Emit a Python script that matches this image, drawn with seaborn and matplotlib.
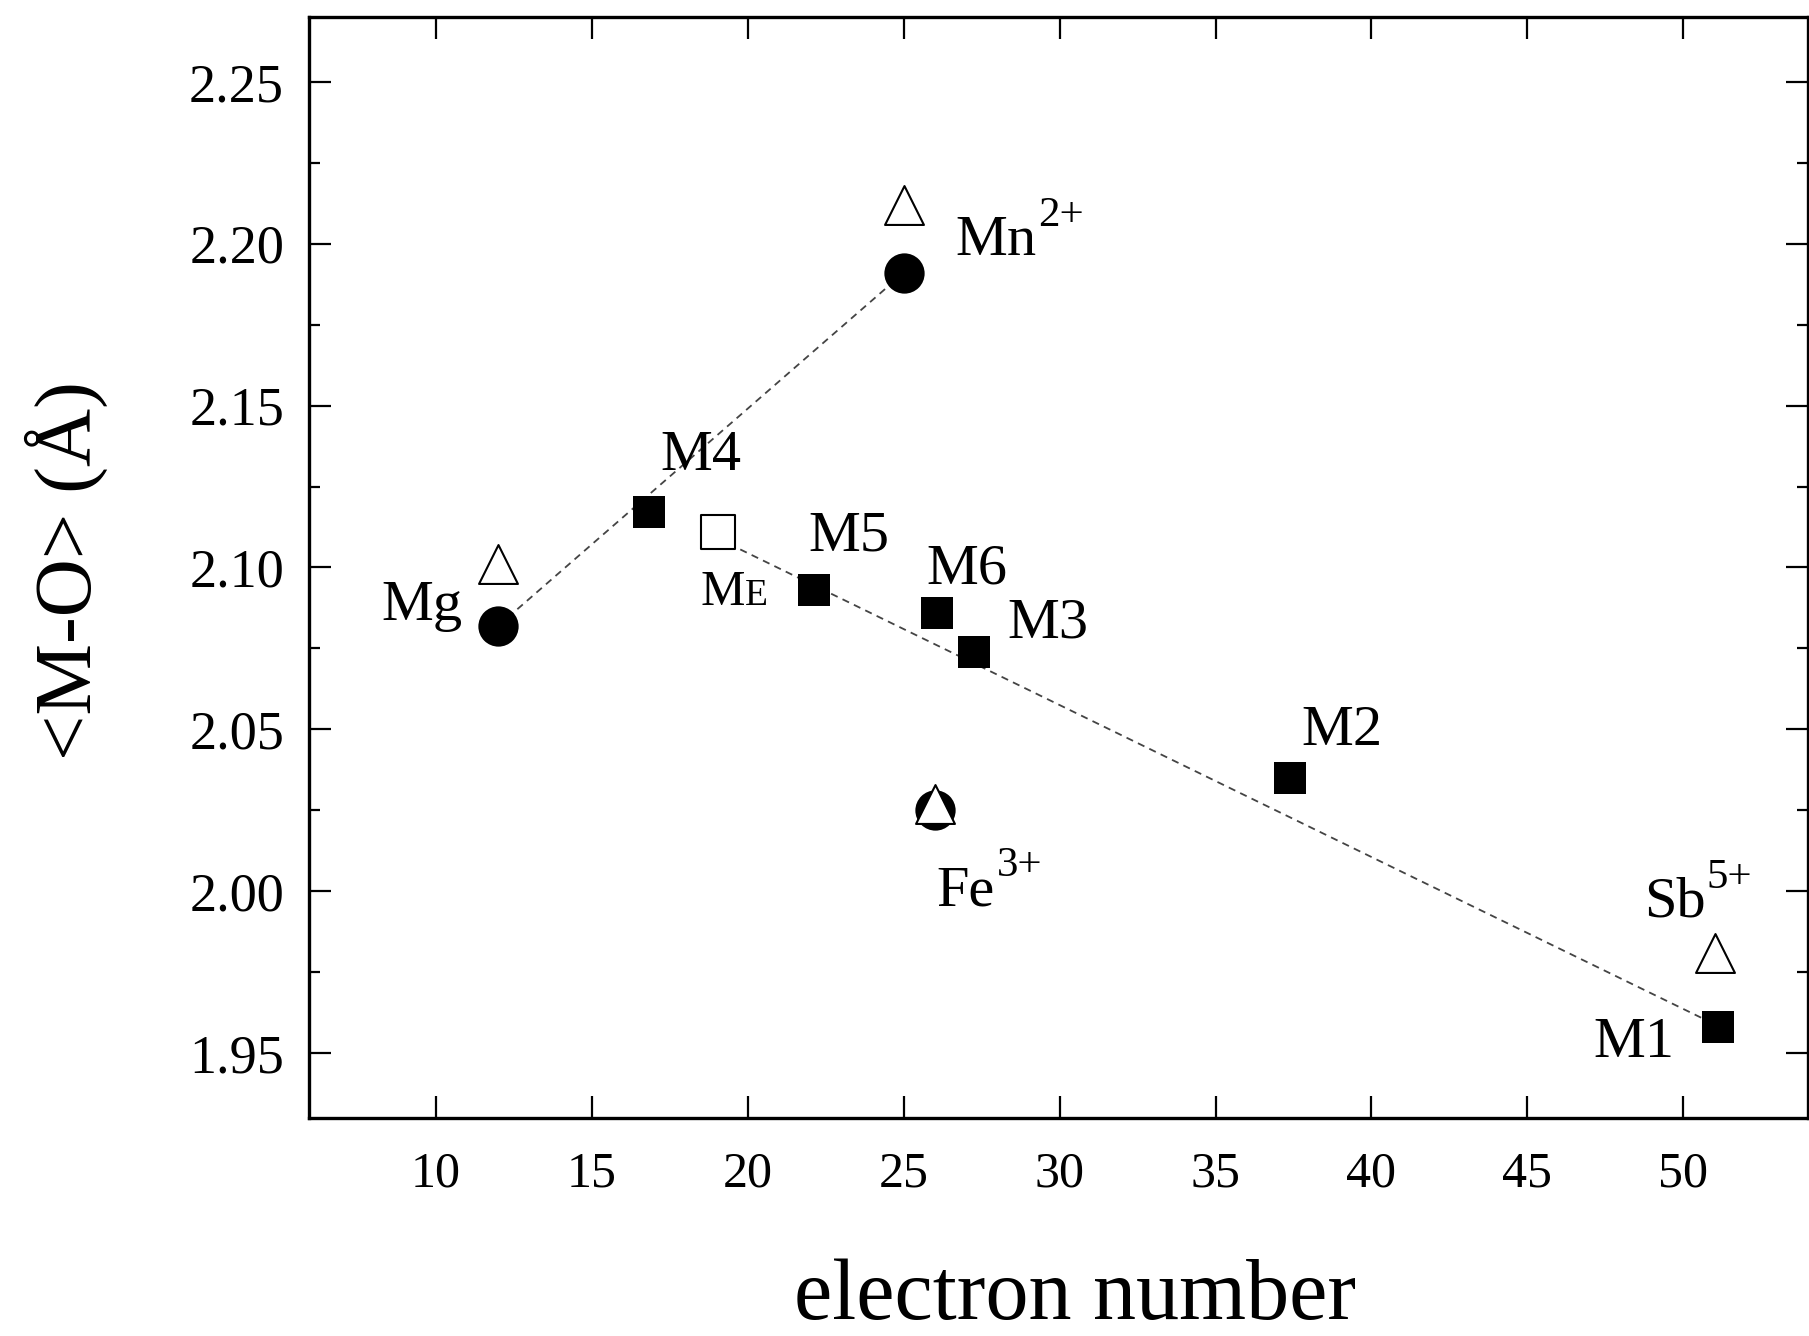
import matplotlib
matplotlib.use("Agg")
import matplotlib.pyplot as plt
import seaborn as sns
import pandas as pd
from matplotlib.ticker import MultipleLocator, FormatStrFormatter

# ---- data ----
# filled squares: structural sites
site_names = ["M4", "M5", "M6", "M3", "M2", "M1"]
site_x = [16.84, 22.13, 26.06, 27.24, 37.38, 51.1]
site_y = [2.117, 2.093, 2.086, 2.074, 2.035, 1.958]

# open square: ME
me_x = [19.03]
me_y = [2.111]

# filled circles: ions
ion_names = ["Mg", "Mn", "Fe"]
ion_x = [12.0, 25.0, 26.0]
ion_y = [2.082, 2.191, 2.025]

# open triangles: ideal ionic values
tri_names = ["Mg", "Mn", "Fe", "Sb"]
tri_x = [12.0, 25.0, 26.0, 51.0]
tri_y = [2.101, 2.212, 2.027, 1.981]

# dashed trend lines
line1_x = [12.0, 25.0]
line1_y = [2.082, 2.191]
line2_x = [19.03, 51.1]
line2_y = [2.109, 1.9585]

x_ticks = [10, 15, 20, 25, 30, 35, 40, 45, 50]
y_ticks = [1.95, 2.00, 2.05, 2.10, 2.15, 2.20, 2.25]

# ---- style ----
sns.set_theme(style="ticks")
plt.rcParams["font.family"] = ["Liberation Serif", "DejaVu Serif"]
for key in ["text.color", "axes.labelcolor", "xtick.color", "ytick.color", "axes.edgecolor"]:
    plt.rcParams[key] = "black"

fig = plt.figure(figsize=(18.09, 13.36), dpi=100)
ax = fig.add_axes([309 / 1809, 1 - 1118 / 1336, 1 - 309 / 1809 - 0.0005, (1118 - 17) / 1336])

l1 = pd.DataFrame({"x": line1_x, "y": line1_y})
l2 = pd.DataFrame({"x": line2_x, "y": line2_y})
sns.lineplot(data=l1, x="x", y="y", ax=ax, color="#444444", lw=1.3,
             linestyle=(0, (4, 3)), zorder=1)
sns.lineplot(data=l2, x="x", y="y", ax=ax, color="#444444", lw=1.3,
             linestyle=(0, (4, 3)), zorder=1)

sq = pd.DataFrame({"x": site_x, "y": site_y})
sns.scatterplot(data=sq, x="x", y="y", ax=ax, marker="s", s=23 ** 2,
                color="black", edgecolor="black", linewidth=0, zorder=3)
me = pd.DataFrame({"x": me_x, "y": me_y})
sns.scatterplot(data=me, x="x", y="y", ax=ax, marker="s", s=24 ** 2,
                facecolor="white", edgecolor="black", linewidth=1.5, zorder=3)
ci = pd.DataFrame({"x": ion_x, "y": ion_y})
sns.scatterplot(data=ci, x="x", y="y", ax=ax, marker="o", s=29 ** 2,
                color="black", edgecolor="black", linewidth=0, zorder=3)
tr = pd.DataFrame({"x": tri_x, "y": tri_y})
sns.scatterplot(data=tr, x="x", y="y", ax=ax, marker="^", s=28 ** 2,
                facecolor="white", edgecolor="black", linewidth=1.5, zorder=4)

# ---- labels ----
lab_fs = 42
labels = [
    ("Mg", 10.85, 2.0838, "right"),
    ("M4", 18.5, 2.1301, "center"),
    ("M5", 23.24, 2.1052, "center"),
    ("M6", 27.02, 2.0952, "center"),
    ("M3", 29.61, 2.0784, "center"),
    ("M2", 39.04, 2.0453, "center"),
    ("M1", 48.4, 1.9489, "center"),
]
for txt, lx, ly, ha in labels:
    ax.text(lx, ly, txt, fontsize=lab_fs, ha=ha, va="baseline", zorder=5)

# ion labels with superscript charges
ion_labels = [
    ("Mn", "2+", 26.65, 2.1965),
    ("Fe", "3+", 26.06, 1.9957),
    ("Sb", "5+", 48.73, 1.9921),
]
for base, sup, lx, ly in ion_labels:
    t = ax.text(lx, ly, base, fontsize=lab_fs, ha="left", va="baseline", zorder=5)
    ax.annotate(sup, xy=(1.0, ly), xycoords=(t, "data"),
                xytext=(1, 21), textcoords="offset points",
                fontsize=31, ha="left", va="baseline", zorder=5)

# ME with small-caps E
ax.text(19.9, 2.0884, "M", fontsize=36, ha="right", va="baseline", zorder=5)
ax.text(19.9, 2.0884, "E", fontsize=27, ha="left", va="baseline", zorder=5)

# ---- axes ----
ax.set_xlim(5.93, 54.0)
ax.set_ylim(1.93, 2.27)
ax.set_xticks(x_ticks)
ax.set_yticks(y_ticks)
ax.yaxis.set_minor_locator(MultipleLocator(0.025))
ax.yaxis.set_major_formatter(FormatStrFormatter("%.2f"))

for sp in ax.spines.values():
    sp.set_visible(True)
    sp.set_linewidth(2.4)
    sp.set_color("black")

ax.tick_params(axis="both", which="major", direction="in", length=16, width=1.6,
               top=True, right=True, color="black")
ax.tick_params(axis="y", which="minor", direction="in", length=8, width=1.6,
               left=True, right=True, color="black")
ax.tick_params(axis="x", which="major", labelsize=36, pad=24)
ax.tick_params(axis="y", which="major", labelsize=39, pad=18)

ax.set_xlabel("electron number", fontsize=62)
ax.xaxis.label.set_va("baseline")
ax.xaxis.set_label_coords(0.511, -0.183)
ax.set_ylabel("<M-O> (Å)", fontsize=58)
ax.yaxis.label.set_va("center")
ax.yaxis.set_label_coords(-0.162, 0.497)

ax.grid(False)
fig.savefig("out.png", dpi=100)
